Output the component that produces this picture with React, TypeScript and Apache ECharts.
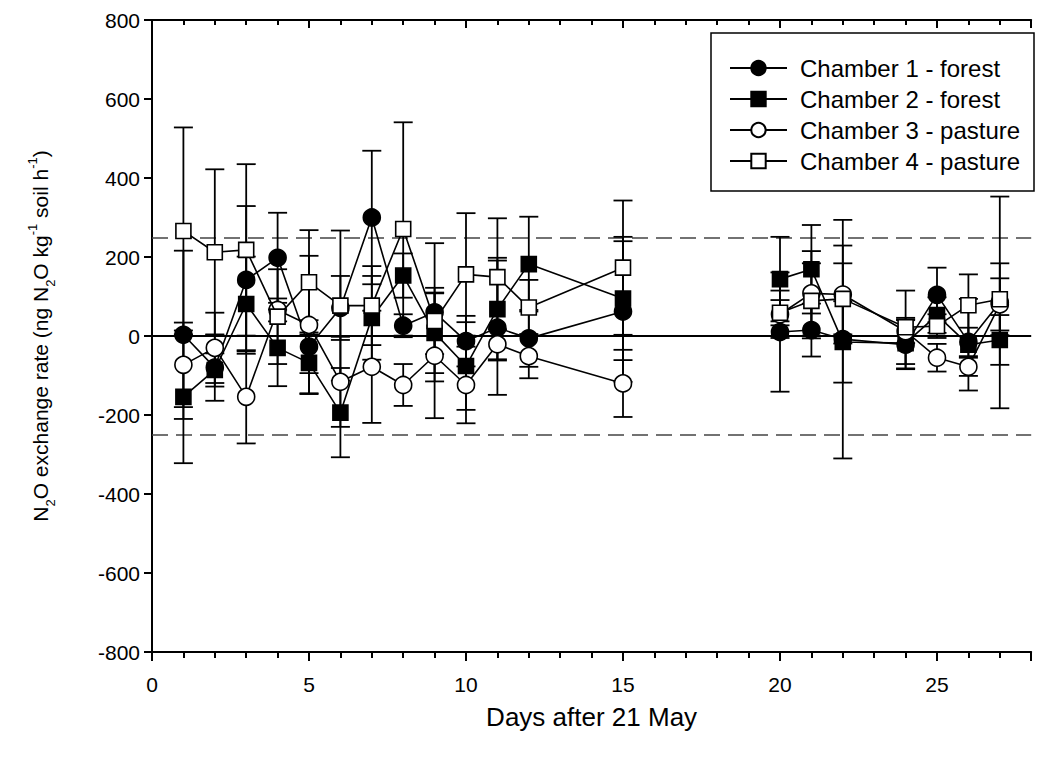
import React, { useEffect, useRef } from "react";
import * as echarts from "echarts";

// Days after 21 May on which chambers were measured
const days = [1, 2, 3, 4, 5, 6, 7, 8, 9, 10, 11, 12, 15, 20, 21, 22, 24, 25, 26, 27];
// measurement gap (line is broken after this day)
const gapAfterDay = 15;

const chamberNames = [
  "Chamber 1 - forest",
  "Chamber 2 - forest",
  "Chamber 3 - pasture",
  "Chamber 4 - pasture",
];

const ch1Mean = [3, -80, 142, 198, -27, 71, 300, 26, 60, -13, 21, -6, 62, 10, 15, -8, -22, 104, -15, 85];
const ch1Err = [213, 84, 187, 114, 67, 81, 169, 29, 175, 64, 170, 72, 178, 151, 67, 302, 62, 69, 36, 268];

const ch2Mean = [-154, -86, 81, -30, -68, -194, 46, 153, 8, -76, 68, 182, 95, 144, 169, -15, -18, 53, -22, -10];
const ch2Err = [168, 42, 120, 97, 77, 113, 106, 56, 102, 111, 130, 120, 156, 107, 112, 103, 64, 45, 116, 63];

const ch3Mean = [-73, -30, -154, 66, 28, -116, -78, -124, -50, -124, -21, -51, -120, 55, 108, 105, 12, -55, -78, 80];
const ch3Err = [107, 89, 118, 29, 175, 114, 142, 53, 158, 97, 38, 56, 85, 60, 107, 124, 30, 35, 23, 66];

const ch4Mean = [266, 212, 218, 49, 136, 77, 77, 271, 38, 156, 149, 72, 173, 59, 89, 94, 22, 25, 78, 93];
const ch4Err = [262, 210, 217, 120, 132, 190, 100, 270, 84, 155, 149, 70, 170, 32, 95, 90, 93, 30, 78, 91];

const yTicks = [-800, -600, -400, -200, 0, 200, 400, 600, 800];
const thresholdLines = [-250, 250];

const FONT = "'Liberation Sans', Arial, sans-serif";

export default function App() {
  const ref = useRef<HTMLDivElement>(null);

  useEffect(() => {
    document.body.style.margin = "0";
    const chart = echarts.init(ref.current!, null, { renderer: "svg" });

    const means = [ch1Mean, ch2Mean, ch3Mean, ch4Mean];
    const errs = [ch1Err, ch2Err, ch3Err, ch4Err];
    const symbols = ["circle", "rect", "circle", "rect"];
    const sizes = [17, 15, 17, 15];
    const fills = ["#000", "#000", "#fff", "#fff"];

    const lineData = (m: number[]) => {
      const out: any[] = [];
      days.forEach((d, i) => {
        out.push([d, m[i]]);
        if (d === gapAfterDay) out.push([d + 2, "-"]);
      });
      return out;
    };

    const errData: any[] = [];
    means.forEach((m, k) => {
      days.forEach((d, i) => errData.push([d, m[i], errs[k][i]]));
    });

    const errorSeries = {
      type: "custom",
      name: "err",
      z: 1,
      silent: true,
      data: errData,
      encode: { x: 0, y: 1 },
      renderItem: (params: any, api: any) => {
        const x = api.value(0);
        const y = api.value(1);
        const e = api.value(2);
        const top = api.coord([x, y + e]);
        const bot = api.coord([x, y - e]);
        const w = 9.5;
        const st = { stroke: "#000", lineWidth: 1.8 };
        return {
          type: "group",
          children: [
            { type: "line", shape: { x1: top[0], y1: top[1], x2: bot[0], y2: bot[1] }, style: st },
            { type: "line", shape: { x1: top[0] - w, y1: top[1], x2: top[0] + w, y2: top[1] }, style: st },
            { type: "line", shape: { x1: bot[0] - w, y1: bot[1], x2: bot[0] + w, y2: bot[1] }, style: st },
          ],
        };
      },
    };

    const lineSeries = means.map((m, k) => ({
      type: "line",
      name: chamberNames[k],
      data: lineData(m),
      z: 2 + k,
      symbol: symbols[k],
      symbolSize: sizes[k],
      showAllSymbol: true,
      connectNulls: false,
      lineStyle: { color: "#000", width: 1.6 },
      itemStyle: { color: fills[k], borderColor: "#000", borderWidth: 1.6, opacity: 1 },
      emphasis: { disabled: true },
      ...(k === 0
        ? {
            markLine: {
              silent: true,
              symbol: "none",
              label: { show: false },
              z: 1,
              data: [
                { yAxis: 0, lineStyle: { color: "#000", width: 2, type: "solid" } },
                ...thresholdLines.map((v) => ({
                  yAxis: v,
                  lineStyle: { color: "#444", width: 1.5, type: [16, 8] },
                })),
              ],
            },
          }
        : {}),
    }));

    const gridLeft = 152;
    const gridTop = 20;
    const gridHeight = 632;
    const gridWidth = 28 * 31.4;

    chart.setOption({
      animation: false,
      backgroundColor: "#fff",
      textStyle: { fontFamily: FONT },
      grid: { left: gridLeft, top: gridTop, width: gridWidth, height: gridHeight, containLabel: false },
      graphic: [
        {
          type: "rect",
          z: 9,
          silent: true,
          shape: { x: 711, y: 33, width: 323, height: 158 },
          style: { fill: "#fff", stroke: "#000", lineWidth: 1.5 },
        },
      ],
      legend: {
        orient: "vertical",
        left: 711,
        top: 56,
        z: 10,
        data: chamberNames,
        itemWidth: 57,
        itemHeight: 18,
        itemGap: 7,
        padding: [0, 0, 0, 18],
        selectedMode: false,
        textStyle: { fontSize: 24, color: "#000", fontFamily: FONT, lineHeight: 24, padding: [0, 0, 0, 8] },
      },
      xAxis: [
        {
          type: "value",
          min: 0,
          max: 28,
          interval: 5,
          position: "bottom",
          name: "Days after 21 May",
          nameLocation: "middle",
          nameGap: 52,
          nameTextStyle: { fontSize: 26, color: "#000", fontFamily: FONT },
          axisLine: { show: true, onZero: false, lineStyle: { color: "#000", width: 2 } },
          axisTick: { show: true, inside: false, length: 9, lineStyle: { color: "#000", width: 2 } },
          minorTick: { show: true, splitNumber: 5, length: 6, lineStyle: { color: "#000", width: 2 } },
          axisLabel: { fontSize: 21, color: "#000", margin: 22, fontFamily: FONT, showMaxLabel: false },
          splitLine: { show: false },
        },
        {
          type: "value",
          min: 0,
          max: 28,
          interval: 5,
          position: "top",
          axisLine: { show: true, onZero: false, lineStyle: { color: "#000", width: 2 } },
          axisTick: { show: true, inside: true, length: 8, lineStyle: { color: "#000", width: 2 } },
          minorTick: { show: true, splitNumber: 5, length: 5, lineStyle: { color: "#000", width: 2 } },
          axisLabel: { show: false },
          splitLine: { show: false },
        },
      ],
      yAxis: {
        type: "value",
        min: yTicks[0],
        max: yTicks[yTicks.length - 1],
        interval: 200,
        name: "N{sub|2}O exchange rate (ng N{sub|2}O kg{sup|-1} soil h{sup|-1})",
        nameLocation: "middle",
        nameRotate: 90,
        nameGap: 101,
        nameTextStyle: {
          fontSize: 21,
          color: "#000",
          fontFamily: FONT,
          rich: {
            sub: { fontSize: 13, verticalAlign: "bottom", lineHeight: 13, padding: [0, 0, -6, 0], fontFamily: FONT, color: "#000" },
            sup: { fontSize: 13, verticalAlign: "top", lineHeight: 13, padding: [-4, 0, 0, 0], fontFamily: FONT, color: "#000" },
          },
        },
        axisLine: { show: true, onZero: false, lineStyle: { color: "#000", width: 2 } },
        axisTick: { show: true, inside: false, length: 8, lineStyle: { color: "#000", width: 2 } },
        axisLabel: { fontSize: 21, color: "#000", margin: 12, fontFamily: FONT },
        splitLine: { show: false },
      },
      series: [errorSeries, ...lineSeries],
    });

    return () => chart.dispose();
  }, []);

  return <div ref={ref} style={{ width: 1049, height: 760, background: "#fff" }} />;
}
